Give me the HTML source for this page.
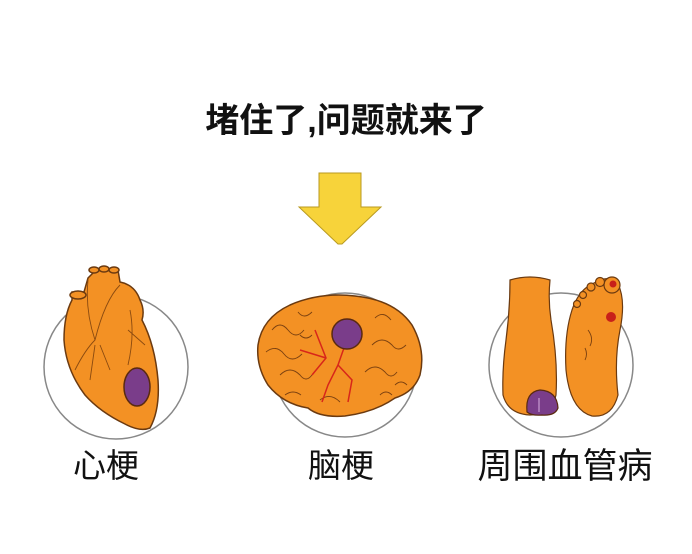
<!DOCTYPE html>
<html><head><meta charset="utf-8"><style>
html,body{margin:0;padding:0;background:#fff;width:692px;height:554px;overflow:hidden}
svg{position:absolute;left:0;top:0}
text{font-family:"Liberation Sans","Noto Sans CJK SC",sans-serif}
</style></head><body>
<svg width="692" height="554" viewBox="0 0 692 554">
<text x="346" y="132" font-size="34" font-weight="bold" text-anchor="middle" fill="#111">堵住了,问题就来了</text>
<!-- arrow -->
<path d="M319,173 L361,173 L361,207 L381,207 L342,244 L338,244 L299,207 L319,207 Z" fill="#F7D33A" stroke="#b89a20" stroke-width="1"/>
<!-- circles -->
<circle cx="116" cy="367" r="72" fill="none" stroke="#888" stroke-width="1.5"/>
<circle cx="345" cy="365" r="72" fill="none" stroke="#888" stroke-width="1.5"/>
<circle cx="561" cy="365" r="72" fill="none" stroke="#888" stroke-width="1.5"/>
<!-- heart -->
<g stroke="#6b3a10" stroke-width="1.5" fill="#F39124">
<path d="M72,292 L84,292 L88,278 L96,270 L118,270 L120,282 Q135,285 140,300 Q145,310 142,320 Q155,345 158,380 Q160,410 150,428 Q140,432 125,424 Q100,412 85,395 Q66,370 64,340 Q64,315 72,300 Z"/>
<ellipse cx="78" cy="295" rx="8" ry="4"/>
<ellipse cx="94" cy="270" rx="5" ry="3"/><ellipse cx="104" cy="269" rx="5" ry="3"/><ellipse cx="114" cy="270" rx="5" ry="3"/>
</g>
<g stroke="#8a4a10" stroke-width="0.9" fill="none">
<path d="M88,280 Q85,310 95,340 M120,285 Q105,300 95,340 Q85,350 75,370 M95,345 L90,380 M100,345 L110,370 M130,310 Q135,335 128,365 M128,330 L145,345"/>
</g>
<ellipse cx="137" cy="387" rx="13" ry="19" fill="#7a3d8a" stroke="#5a2a10" stroke-width="1.5"/>
<!-- brain -->
<path d="M258,345 Q262,318 290,305 Q320,292 355,296 Q395,300 412,325 Q426,350 420,375 Q414,392 395,398 Q375,412 345,416 Q320,418 308,408 Q283,404 268,385 Q256,366 258,345 Z" fill="#F39124" stroke="#6b3a10" stroke-width="1.5"/>
<g stroke="#7a4010" stroke-width="0.9" fill="none">
<path d="M272,330 q8,-10 16,0 q8,10 16,0 M266,352 q10,-8 18,2 q8,10 18,0 M280,375 q10,-10 20,0 q6,8 12,0 M375,318 q8,-8 16,2 M372,345 q10,-10 20,0 q6,8 14,0 M365,372 q10,-10 20,0 q6,8 12,0 M298,312 q6,8 14,0 M320,400 q10,-8 20,2 M285,395 q8,-6 16,0 M395,385 q6,-6 12,0 M300,335 q6,6 12,0 M380,395 q6,-6 12,0"/>
</g>
<g stroke="#d8261a" stroke-width="1.5" fill="none">
<path d="M345,345 L338,365 L328,385 L322,402 M338,365 L352,380 L348,402 M315,330 L326,358 L312,375 M300,350 L326,358"/>
</g>
<circle cx="347" cy="334" r="15" fill="#7a3d8a" stroke="#5a2a10" stroke-width="1.5"/>
<!-- feet -->
<g fill="#F39124" stroke="#6b3a10" stroke-width="1.2">
<path d="M510,280 Q530,274 550,280 Q548,300 551,320 Q558,360 556,395 Q552,415 530,415 Q508,414 503,395 Q502,370 506,340 Q510,310 510,280 Z"/>
<path d="M572,310 Q578,292 590,285 L600,280 Q612,276 618,284 Q626,300 620,330 Q614,360 618,395 Q612,418 592,416 Q570,410 566,370 Q564,335 572,310 Z"/>
<circle cx="612" cy="285" r="8"/><circle cx="600" cy="282" r="4.5"/><circle cx="591" cy="287" r="4"/><circle cx="583" cy="295" r="3.5"/><circle cx="577" cy="304" r="3.5"/>
</g>
<circle cx="613" cy="284" r="3.5" fill="#c8201a"/>
<circle cx="611" cy="317" r="5" fill="#c8201a"/>
<g stroke="#7a4010" stroke-width="0.9" fill="none"><path d="M588,330 q6,8 2,16 M585,348 q3,6 0,12"/></g>
<path d="M527,412 Q525,392 540,390 Q557,391 558,408 Q555,416 542,415 Q532,416 527,412 Z" fill="#7a3d8a" stroke="#5a2a10" stroke-width="1.2"/>
<path d="M539,398 L539,412" stroke="#d8b0e0" stroke-width="1"/>
<!-- labels -->
<text x="106" y="477" font-size="33" text-anchor="middle" fill="#111">心梗</text>
<text x="341" y="477" font-size="33" text-anchor="middle" fill="#111">脑梗</text>
<text x="565" y="478" font-size="35" text-anchor="middle" fill="#111">周围血管病</text>
</svg>
</body></html>
